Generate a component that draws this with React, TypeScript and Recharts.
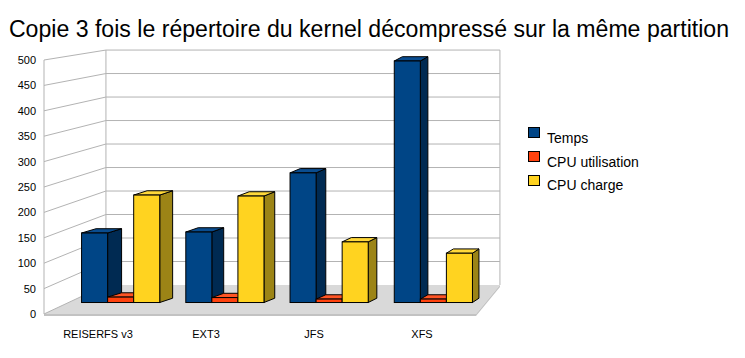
import React from 'react';
import { BarChart, Bar, XAxis, YAxis, CartesianGrid } from 'recharts';

const title = 'Copie 3 fois le répertoire du kernel décompressé sur la même partition';
const categories = ['REISERFS v3', 'EXT3', 'JFS', 'XFS'];
const temps = [141, 143, 263, 490];
const cpuUtilisation = [11, 10, 7, 7];
const cpuCharge = [218, 216, 123, 100];
const yTicks = [0, 50, 100, 150, 200, 250, 300, 350, 400, 450, 500];
const seriesNames = ['Temps', 'CPU utilisation', 'CPU charge'];

const data = categories.map((name, i) => ({
  name,
  temps: temps[i],
  util: cpuUtilisation[i],
  charge: cpuCharge[i],
}));

const W = 745;
const H = 358;
const FONT = '"Liberation Sans", Arial, Helvetica, sans-serif';

// perspective helpers (front plane -> deeper plane)
const VX = 748;
const VY = -72.7;
const KX = 0.088;
const KY = 0.075;
const proj = (x: number, y: number, t: number): [number, number] => [
  VX + (x - VX) * (1 - KX * t),
  VY + (y - VY) * (1 - KY * t),
];
const BAR_T = 0.396;
const depthDx = (x: number) => 0.0205 * (789 - x);
const DEPTH_DY = -4.3;

const COLORS = [
  { front: '#004586', top: '#0a4d90', side: '#002a52' },
  { front: '#ff420e', top: '#ff5424', side: '#a52b09' },
  { front: '#ffd320', top: '#ffd83a', side: '#9c8416' },
];

const GRID = '#b3b3b3';

function makeShape(c: { front: string; top: string; side: string }) {
  return (props: any) => {
    const { x, y, width, height } = props;
    if (x == null || width == null || height == null) return <g />;
    const [fx1, fy1] = proj(x, y, BAR_T);
    const [fx2, fy2] = proj(x + width, y + height, BAR_T);
    const pt = (px: number, py: number) => `${px},${py}`;
    const b = (px: number, py: number) => `${px + depthDx(px)},${py + DEPTH_DY}`;
    return (
      <g stroke="#000" strokeWidth={1} strokeLinejoin="miter">
        <polygon points={[pt(fx2, fy1), pt(fx2, fy2), b(fx2, fy2), b(fx2, fy1)].join(' ')} fill={c.side} />
        <polygon points={[pt(fx1, fy1), pt(fx2, fy1), b(fx2, fy1), b(fx1, fy1)].join(' ')} fill={c.top} />
        <rect x={fx1} y={fy1} width={fx2 - fx1} height={Math.max(0, fy2 - fy1)} fill={c.front} />
      </g>
    );
  };
}

const gridLine = (props: any) => {
  const { x1, y1, x2, index } = props;
  const top = props.y;
  const bottom = props.y + props.height;
  const [bx1, by] = proj(x1, y1, 1);
  const [bx2] = proj(x2, y1, 1);
  const isBottom = Math.abs(y1 - bottom) < 0.5;
  const isTop = Math.abs(y1 - top) < 0.5;
  const [, bBottom] = proj(x1, bottom, 1);
  return (
    <g key={`gl-${index}`}>
      {isBottom && (
        <g>
          <polygon
            points={`${x1},${y1} ${x2},${y1} ${bx2},${by} ${bx1},${by}`}
            fill="#d9d9d9"
            stroke="none"
          />
          <polygon
            points={`${x1},${y1} ${x2},${y1} ${x2},${y1 + 2} ${x1},${y1 + 2}`}
            fill="#c2c2c2"
            stroke="none"
          />
          <polygon
            points={`${x2},${y1} ${bx2},${by} ${bx2},${by + 2} ${x2},${y1 + 2}`}
            fill="#c2c2c2"
            stroke="none"
          />
        </g>
      )}
      {isTop && (
        <g>
          <line x1={bx1} y1={by} x2={bx1} y2={bBottom} stroke={GRID} />
          <line x1={bx2} y1={by} x2={bx2} y2={bBottom} stroke={GRID} />
        </g>
      )}
      <line x1={x1} y1={y1} x2={bx1} y2={by} stroke={GRID} />
      {!isBottom && <line x1={bx1} y1={by} x2={bx2} y2={by} stroke={GRID} />}
    </g>
  );
};

export default function App() {
  return (
    <div style={{ position: 'absolute', left: 0, top: 0, width: W, height: H, background: '#fff' }}>
      <BarChart
        width={W}
        height={H}
        data={data}
        margin={{ top: 60, right: 269, bottom: 14, left: 4 }}
        barCategoryGap="12.5%"
        barGap={0}
      >
        <CartesianGrid vertical={false} horizontal={gridLine} />
        <XAxis
          dataKey="name"
          height={30}
          axisLine={false}
          tickLine={false}
          tickSize={0}
          tickMargin={16}
          interval={0}
          tick={{ fontSize: 11, fill: '#000', fontFamily: FONT }}
        />
        <YAxis
          width={40}
          domain={[0, 500]}
          ticks={yTicks}
          interval={0}
          axisLine={{ stroke: GRID }}
          tickLine={false}
          tickSize={0}
          tickMargin={8}
          tick={{ fontSize: 11, fill: '#000', fontFamily: FONT }}
        />
        <Bar dataKey="temps" name={seriesNames[0]} fill={COLORS[0].front} shape={makeShape(COLORS[0])} isAnimationActive={false} />
        <Bar dataKey="util" name={seriesNames[1]} fill={COLORS[1].front} shape={makeShape(COLORS[1])} isAnimationActive={false} />
        <Bar dataKey="charge" name={seriesNames[2]} fill={COLORS[2].front} shape={makeShape(COLORS[2])} isAnimationActive={false} />
      </BarChart>
      <svg
        width={W}
        height={H}
        style={{ position: 'absolute', left: 0, top: 0, pointerEvents: 'none' }}
      >
        <text x={369} y={37} textAnchor="middle" fontSize={23.1} fontFamily={FONT} fill="#000">
          {title}
        </text>
        {seriesNames.map((n, i) => (
          <g key={n}>
            <rect x={528.5} y={127.5 + i * 24} width={11} height={10} fill={COLORS[i].front} stroke="#000" />
            <text x={547} y={143 + i * 23.5} fontSize={14} fontFamily={FONT} fill="#000">
              {n}
            </text>
          </g>
        ))}
      </svg>
    </div>
  );
}
